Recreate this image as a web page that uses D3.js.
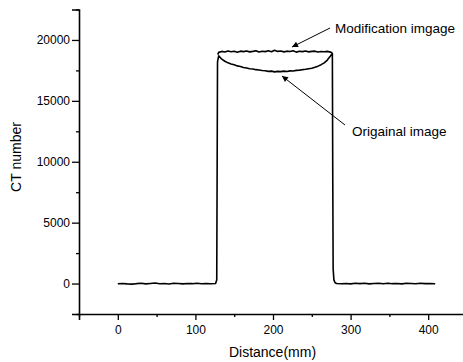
<!DOCTYPE html>
<html><head><meta charset="utf-8">
<script src="https://cdn.jsdelivr.net/npm/d3@7"></script>
<style>
html,body{margin:0;padding:0;background:#fff;}
svg{display:block;font-family:"Liberation Sans",Arial,sans-serif;}
</style></head>
<body>
<script>
// ---- data ----
const xTicks = [0, 100, 200, 300, 400];
const yTicks = [0, 5000, 10000, 15000, 20000];
const xLabel = "Distance(mm)";
const yLabel = "CT number";

const baseLeftX = [0, 6, 12, 18, 24, 30, 36, 42, 48, 54, 60, 66, 72, 78, 84, 90, 96, 102, 108, 114, 120, 126];
const baseLeftY = [-20, 10, -30, -50, -10, 20, -30, 10, 40, -20, 10, -40, 20, 0, -30, 10, -10, 30, -20, 10, -20, 0];
const riseX = [127.5, 128, 128.5];
const riseY = [300, 9000, 18200];
const topX = [130, 134, 138, 142, 146, 150, 154, 158, 162, 166, 170, 174, 178, 182, 186, 190, 194, 198, 202, 206, 210, 214, 218, 222, 226, 230, 234, 238, 242, 246, 250, 254, 258, 262, 266, 270, 274];
const modifiedTop = [18980, 19060, 19010, 19090, 19030, 19070, 18990, 19080, 19040, 19100, 19020, 19060, 19120, 19010, 19070, 19040, 19110, 19030, 19150, 19060, 19090, 19020, 19080, 19050, 19110, 19000, 19070, 19040, 19090, 19020, 19060, 19080, 19010, 19050, 19030, 19060, 19000];
const originalTop = [18700, 18420, 18250, 18120, 18030, 17960, 17870, 17820, 17740, 17700, 17640, 17610, 17560, 17530, 17490, 17470, 17420, 17440, 17380, 17420, 17400, 17440, 17410, 17460, 17450, 17500, 17520, 17560, 17590, 17640, 17680, 17760, 17850, 17970, 18120, 18350, 18680];
const fallX = [276.5, 277, 277.5, 278.5, 280, 282];
const fallY = [18900, 9000, 1200, 300, 60, 0];
const baseRightX = [288, 294, 300, 306, 312, 318, 324, 330, 336, 342, 348, 354, 360, 366, 372, 378, 384, 390, 396, 402, 409];
const baseRightY = [-20, 10, -30, 20, -10, 20, -30, 0, 20, -20, 30, -10, 10, -30, 20, 0, -20, 20, -10, 10, -20];

const annotations = [
  {text: "Modification imgage", tx: 335, ty: 33, x1: 330, y1: 28, x2: 292, y2: 47},
  {text: "Origainal image", tx: 352, ty: 136, x1: 345, y1: 125, x2: 282, y2: 76}
];

// ---- build series ----
function zip(xs, ys) { return xs.map((d, i) => [d, ys[i]]); }
const original = [].concat(zip(baseLeftX, baseLeftY), zip(riseX, riseY), zip(topX, originalTop), zip(fallX, fallY), zip(baseRightX, baseRightY));
const modified = [].concat(zip([128.8], [18800]), zip(topX, modifiedTop), zip([276.3], [18950]));

// ---- layout ----
const W = 463, H = 362;
const svg = d3.select("body").append("svg").attr("width", W).attr("height", H);

const x = d3.scaleLinear().domain([-50, 450]).range([79, 467]);
const y = d3.scaleLinear().domain([-2500, 22500]).range([314, 9.5]);

// axes
const xAxis = d3.axisBottom(x).tickValues(xTicks).tickSize(6).tickPadding(5).tickFormat(d3.format("d"));
const xMinor = d3.axisBottom(x).tickValues([-50, 50, 150, 250, 350, 450]).tickSize(3).tickFormat("");
const yAxis = d3.axisLeft(y).tickValues(yTicks).tickSize(7).tickPadding(2).tickFormat(d3.format("d"));
const yMinor = d3.axisLeft(y).tickValues([-2500, 2500, 7500, 12500, 17500, 22500]).tickSize(3).tickFormat("");

function styleAxis(g) {
  g.selectAll("path.domain").attr("stroke", "#000").attr("stroke-width", 1.6);
  g.selectAll(".tick line").attr("stroke", "#000").attr("stroke-width", 1.3);
  g.selectAll(".tick text").attr("fill", "#000").style("font-size", "12px").style("font-family", "Liberation Sans, Arial, sans-serif");
}

const gx = svg.append("g").attr("transform", `translate(0,${y(-2500)})`).call(xAxis);
styleAxis(gx);
const gxm = svg.append("g").attr("transform", `translate(0,${y(-2500)})`).call(xMinor);
gxm.select("path.domain").remove();
styleAxis(gxm);

const gy = svg.append("g").attr("transform", `translate(${x(-50)},0)`).call(yAxis);
styleAxis(gy);
const gym = svg.append("g").attr("transform", `translate(${x(-50)},0)`).call(yMinor);
gym.select("path.domain").remove();
styleAxis(gym);

// lines
const line = d3.line().x(d => x(d[0])).y(d => y(d[1])).curve(d3.curveLinear);
svg.append("path").datum(original).attr("d", line).attr("fill", "none").attr("stroke", "#000").attr("stroke-width", 1.6).attr("stroke-linejoin", "round");
svg.append("path").datum(modified).attr("d", line).attr("fill", "none").attr("stroke", "#000").attr("stroke-width", 1.6).attr("stroke-linejoin", "round");

// axis titles
svg.append("text").attr("x", 272.5).attr("y", 357).attr("text-anchor", "middle")
  .style("font-size", "14px").attr("fill", "#000").text(xLabel);
svg.append("text").attr("transform", "translate(21,157) rotate(-90)").attr("text-anchor", "middle")
  .style("font-size", "14px").attr("fill", "#000").text(yLabel);

// annotations with arrows
const defs = svg.append("defs");
defs.append("marker").attr("id", "arr").attr("viewBox", "0 0 10 10").attr("refX", 10).attr("refY", 5)
  .attr("markerWidth", 8).attr("markerHeight", 6).attr("markerUnits", "userSpaceOnUse").attr("orient", "auto")
  .append("path").attr("d", "M0,0 L10,5 L0,10 Z").attr("fill", "#000");

annotations.forEach(a => {
  svg.append("line").attr("x1", a.x1).attr("y1", a.y1).attr("x2", a.x2).attr("y2", a.y2)
    .attr("stroke", "#000").attr("stroke-width", 1).attr("marker-end", "url(#arr)");
  svg.append("text").attr("x", a.tx).attr("y", a.ty).style("font-size", "13.5px").attr("fill", "#000").text(a.text);
});
</script>
</body></html>
